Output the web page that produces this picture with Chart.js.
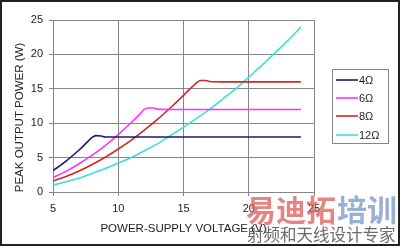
<!DOCTYPE html>
<html>
<head>
<meta charset="utf-8">
<script src="https://cdn.jsdelivr.net/npm/chart.js@4"></script>
<style>
  html, body { margin: 0; padding: 0; background: #fff; }
  #chart { display: block; }
</style>
</head>
<body>
<canvas id="chart" width="400" height="246"></canvas>
<script>
// Data (supply voltage in V, peak power in W)
const loadLabels = ['4Ω', '6Ω', '8Ω', '12Ω'];
const lineColors = ['#1b1b6e', '#ff33ff', '#d42626', '#3ddede'];

const volts4 = [5, 6, 7, 7.7, 8, 8.3, 8.7, 9, 10, 12, 14, 16, 18, 20, 22, 24];
const power4 = [3.1, 4.5, 6.1, 7.4, 7.95, 8.2, 8.15, 8.0, 8.0, 8.0, 8.0, 8.0, 8.0, 8.0, 8.0, 8.0];

const volts6 = [5, 6, 7, 8, 9, 10, 11, 11.7, 12, 12.3, 12.7, 13, 14, 16, 18, 20, 22, 24];
const power6 = [2.1, 3.0, 4.1, 5.35, 6.75, 8.35, 10.1, 11.4, 12.0, 12.2, 12.2, 12.05, 12.0, 12.0, 12.0, 12.0, 12.0, 12.0];

const volts8 = [5, 6, 7, 8, 9, 10, 11, 12, 13, 14, 15, 15.5, 16, 16.3, 16.7, 17, 18, 20, 22, 24];
const power8 = [1.6, 2.25, 3.05, 4.0, 5.05, 6.25, 7.55, 9.0, 10.55, 12.25, 14.05, 15.0, 15.85, 16.2, 16.2, 16.05, 16.0, 16.0, 16.0, 16.0];

const volts12 = [5, 6, 7, 8, 9, 10, 11, 12, 13, 14, 15, 16, 17, 18, 19, 20, 21, 22, 23, 24];
const power12 = [1.0, 1.5, 2.0, 2.7, 3.4, 4.2, 5.0, 6.0, 7.0, 8.2, 9.4, 10.7, 12.0, 13.5, 15.0, 16.7, 18.4, 20.2, 22.0, 24.0];

const xTitle = 'POWER-SUPPLY VOLTAGE (V)';
const yTitle = 'PEAK OUTPUT POWER (W)';

const FONT = '"Liberation Sans", Arial, sans-serif';
const TEXT = '#222';
const GRID = '#858585';

function points(xs, ys) {
    return xs.map((x, i) => ({ x: x, y: ys[i] }));
}

const series = [[volts4, power4], [volts6, power6], [volts8, power8], [volts12, power12]];
const datasets = series.map((s, i) => ({
    label: loadLabels[i],
    data: points(s[0], s[1]),
    borderColor: lineColors[i],
    backgroundColor: lineColors[i],
    borderWidth: 1.6,
    pointRadius: 0,
    cubicInterpolationMode: 'monotone',
    fill: false
}));

// Boxed legend, y-axis title, frame and watermark
const extras = {
    id: 'extras',
    afterDraw(chart) {
        const ctx = chart.ctx;
        ctx.save();

        // legend box
        ctx.strokeStyle = GRID;
        ctx.lineWidth = 1;
        ctx.strokeRect(332.5, 69.5, 56, 74);
        ctx.font = '11px ' + FONT;
        ctx.textBaseline = 'middle';
        ctx.textAlign = 'left';
        const rows = [80, 98, 116, 135];
        chart.data.datasets.forEach((ds, i) => {
            ctx.strokeStyle = ds.borderColor;
            ctx.lineWidth = 1.6;
            ctx.beginPath();
            ctx.moveTo(336, rows[i]);
            ctx.lineTo(358, rows[i]);
            ctx.stroke();
            ctx.fillStyle = TEXT;
            ctx.fillText(ds.label, 359, rows[i] + 0.5);
        });

        // y title
        ctx.save();
        ctx.translate(20, 117.5);
        ctx.rotate(-Math.PI / 2);
        ctx.textAlign = 'center';
        ctx.fillStyle = TEXT;
        ctx.font = '11.5px ' + FONT;
        ctx.fillText(yTitle, 0, 0);
        ctx.restore();

        // watermark
        ctx.textAlign = 'left';
        ctx.textBaseline = 'alphabetic';
        ctx.font = 'bold 30px "Noto Sans CJK SC"';
        ctx.fillStyle = 'rgba(222, 90, 90, 0.75)';
        ctx.fillText('易迪拓', 246, 221);
        ctx.fillStyle = 'rgba(120, 150, 195, 0.75)';
        ctx.fillText('培训', 337, 221);
        ctx.font = '16.5px "Noto Sans CJK SC"';
        ctx.fillStyle = 'rgba(80, 80, 80, 0.85)';
        ctx.fillText('射频和天线设计专家', 247, 241);

        // outer frame
        ctx.strokeStyle = '#222';
        ctx.lineWidth = 2;
        ctx.strokeRect(1, 1, 398, 244);
        ctx.restore();
    }
};

const ctx = document.getElementById('chart').getContext('2d');
new Chart(ctx, {
    type: 'line',
    data: { datasets: datasets },
    options: {
        responsive: false,
        animation: false,
        devicePixelRatio: 1,
        layout: { padding: { left: 0, top: 20, right: 86, bottom: 0 } },
        plugins: {
            legend: { display: false },
            tooltip: { enabled: false }
        },
        scales: {
            x: {
                type: 'linear',
                min: 5,
                max: 25,
                ticks: { stepSize: 5, color: TEXT, padding: 6, font: { family: FONT, size: 11 } },
                grid: { color: GRID, tickLength: 4, lineWidth: 1 },
                border: { color: GRID },
                title: {
                    display: true,
                    text: xTitle,
                    color: TEXT,
                    font: { family: FONT, size: 11.5 },
                    padding: { top: 0, bottom: 10 }
                },
                afterFit(scale) { scale.height = 54; }
            },
            y: {
                min: 0,
                max: 25,
                ticks: { stepSize: 5, color: TEXT, padding: 6, font: { family: FONT, size: 11 } },
                grid: { color: GRID, tickLength: 4, lineWidth: 1 },
                border: { color: GRID },
                afterFit(scale) { scale.width = 53; }
            }
        }
    },
    plugins: [extras]
});
</script>
</body>
</html>
